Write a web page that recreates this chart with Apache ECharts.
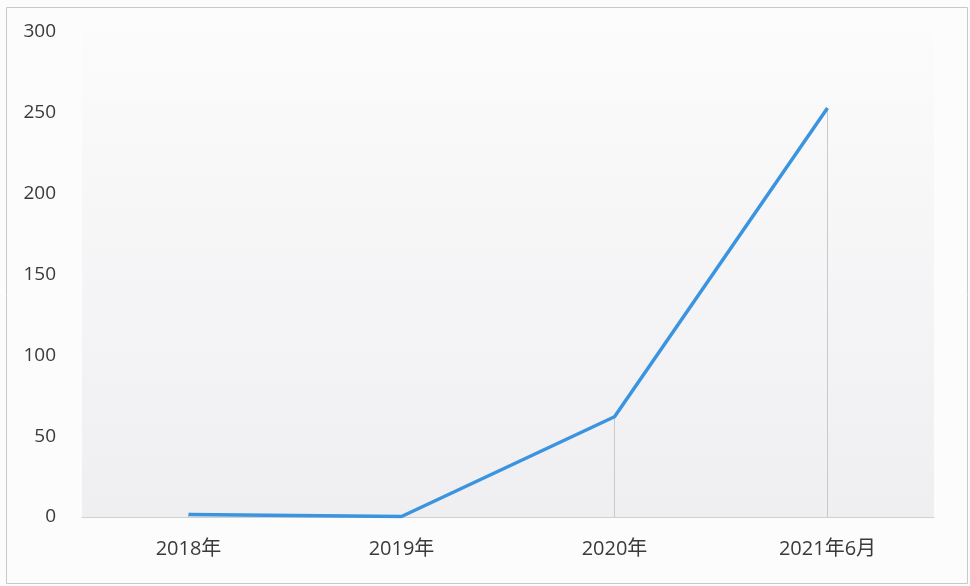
<!DOCTYPE html>
<html><head><meta charset="utf-8">
<script src="https://cdn.jsdelivr.net/npm/echarts@6/dist/echarts.min.js"></script>
<style>html,body{margin:0;padding:0;background:#fff}#c{width:970px;height:586px}</style>
</head><body><div id="c"></div>
<script>
var categories = ['2018年', '2019年', '2020年', '2021年6月'];
var values = [1.5, 0.3, 62, 253];
var yTicks = [0, 50, 100, 150, 200, 250, 300];

var chart = echarts.init(document.getElementById('c'));
var font = "'Open Sans', 'Noto Sans CJK SC', sans-serif";
chart.setOption({
  backgroundColor: '#fdfcfd',
  animation: false,
  graphic: [{
    type: 'rect', left: 4, top: 5, silent: true,
    shape: {width: 961, height: 576},
    style: {fill: 'none', stroke: '#c8c8c8', lineWidth: 1}
  }],
  grid: {
    left: 82, right: 36, top: 32, bottom: 69, show: true, borderWidth: 0,
    backgroundColor: new echarts.graphic.LinearGradient(0, 0, 0, 1, [
      {offset: 0, color: '#fcfbfc'}, {offset: 1, color: '#efeef0'}
    ])
  },
  xAxis: {
    type: 'category', data: categories, boundaryGap: true,
    axisLine: {lineStyle: {color: '#cfcfd2', width: 1}},
    axisTick: {show: false},
    axisLabel: {color: '#3a3a3a', fontSize: 20, margin: 22, fontFamily: font}
  },
  yAxis: {
    type: 'value', min: yTicks[0], max: yTicks[yTicks.length - 1], interval: 50,
    axisLine: {show: false}, axisTick: {show: false}, splitLine: {show: false},
    axisLabel: {color: '#3a3a3a', fontSize: 19, margin: 26, fontFamily: font}
  },
  series: [{
    type: 'bar', data: values, barWidth: 1, barGap: '-100%', silent: true,
    itemStyle: {color: '#c9c9cc'}
  }, {
    type: 'line', data: values, symbol: 'none', silent: true,
    lineStyle: {color: '#3a94e0', width: 3.5}
  }]
});
</script></body></html>
